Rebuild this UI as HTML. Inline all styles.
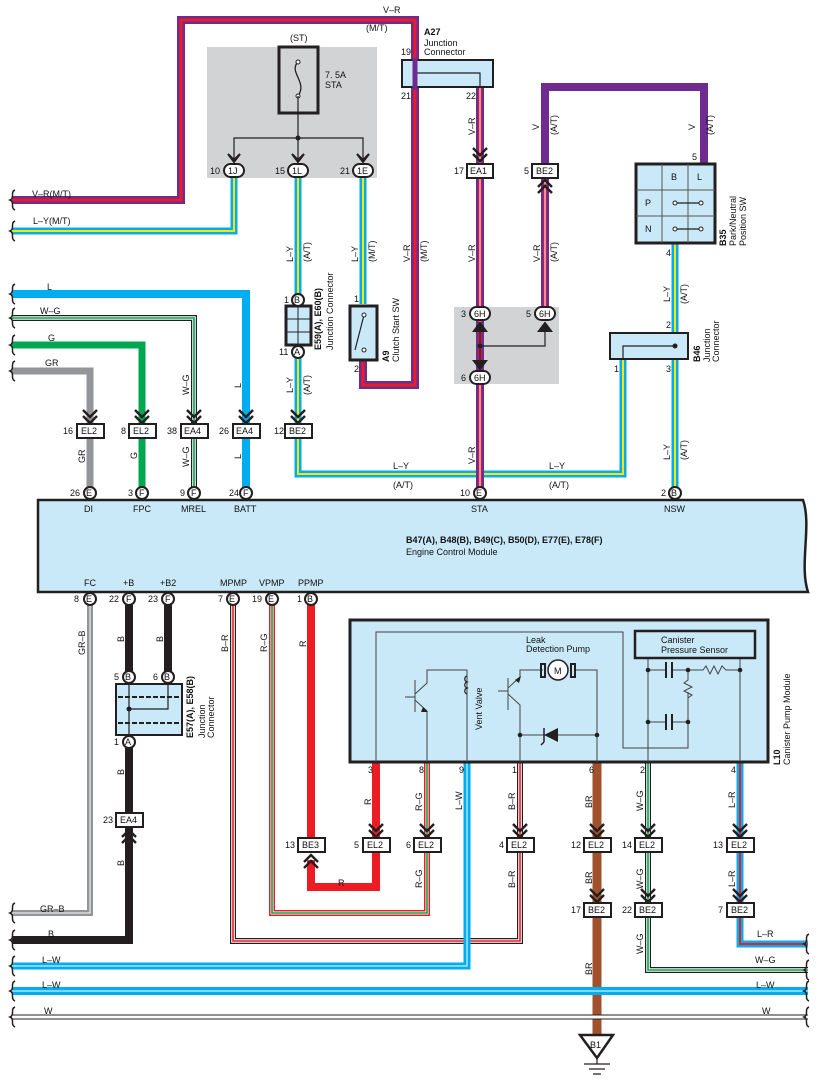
<!DOCTYPE html>
<html><head><meta charset="utf-8"><style>
html,body{margin:0;padding:0;background:#fff}
svg{display:block}
text{font-family:"Liberation Sans",sans-serif;font-size:9px;fill:#111}
.w{fill:none;stroke-linejoin:miter}
.L{stroke:#00aeef;stroke-width:7}
.Y{stroke:#ffe600;stroke-width:2}
.V{stroke:#6e2c91;stroke-width:8}
.R2{stroke:#ed1c24;stroke-width:3}
.Wt{stroke:#fff;stroke-width:1}
.K{stroke:#231f20;stroke-width:8}
.Kt{stroke:#231f20;stroke-width:6}
.Wh{stroke:#fff;stroke-width:3.6}
.Gt{stroke:#00a651;stroke-width:1.6}
.Rt{stroke:#ed1c24;stroke-width:1.6}
.G{stroke:#00a651;stroke-width:7}
.GR{stroke:#939598;stroke-width:7}
.R{stroke:#ed1c24;stroke-width:8}
.BR{stroke:#a0522d;stroke-width:9}
.thin{fill:none;stroke:#231f20;stroke-width:1.2}
.box{fill:#fff;stroke:#231f20;stroke-width:2}
.pin{fill:#fff;stroke:#231f20;stroke-width:2}
.ch{fill:none;stroke:#231f20;stroke-width:2.4}
</style></head><body>
<svg width="818" height="1087" viewBox="0 0 818 1087" xmlns="http://www.w3.org/2000/svg">
<defs>
<path id="chd" d="M-7,-13 L0,-6 L7,-13 M-7,-7 L0,0 L7,-7" class="ch"/>
<path id="chu" d="M-7,13 L0,6 L7,13 M-7,7 L0,0 L7,7" class="ch"/>
<path id="brace" d="M3,-10 C-2,-8 3,-2 -2,0 C3,2 -2,8 3,10" fill="none" stroke="#231f20" stroke-width="1.5"/>
</defs>

<!-- gray areas -->
<rect x="207" y="47" width="170" height="131" fill="#d1d3d4"/>
<rect x="454" y="307" width="105" height="77" fill="#d1d3d4"/>

<!-- V-R M/T long wire -->
<path class="w V" d="M12,200 H181 V20 H415 V385 H363 V360"/>
<path class="w R2" d="M12,200 H181 V20 H415 V385 H363 V360"/>
<!-- L-Y M/T -->
<path class="w L" d="M12,231 H234 V176"/><path class="w Y" d="M12,231 H234 V176"/>
<!-- 1L down -->
<path class="w L" d="M298,176 V474 H623 V358"/><path class="w Y" d="M298,176 V474 H623 V358"/>
<!-- 1E down -->
<path class="w L" d="M363,176 V304"/><path class="w Y" d="M363,176 V304"/>
<!-- V-R 22 to STA -->
<path class="w V" d="M480,88 V493"/><path class="w R2" d="M480,88 V493"/><path class="w Wt" d="M480,88 V493"/>
<!-- V from BE2 to B35 -->
<path class="w V" d="M545,163 V87 H704 V163"/>
<path class="w V" d="M545,177 V307"/><path class="w R2" d="M545,177 V307"/><path class="w Wt" d="M545,177 V307"/>
<!-- B35 pin4 to NSW -->
<path class="w L" d="M675,243 V493"/><path class="w Y" d="M675,243 V493"/>
<!-- left wires -->
<path class="w L" d="M12,294 H246 V493" style="stroke-width:8"/>
<path class="w Kt" d="M12,318 H194 V493"/><path class="w Wh" d="M12,318 H194 V493"/><path class="w Gt" d="M12,318 H194 V493"/>
<path class="w G" d="M12,345 H142 V493"/>
<path class="w GR" d="M12,371 H90 V493"/>

<!-- fuse -->
<rect x="279" y="47" width="39" height="66" fill="none" stroke="#231f20" stroke-width="3"/>
<path d="M298,62 C288,72 308,82 298,96" fill="none" stroke="#231f20" stroke-width="1.3"/>
<circle cx="298" cy="62" r="2" fill="#fff" stroke="#231f20"/><circle cx="298" cy="96" r="2" fill="#fff" stroke="#231f20"/>
<path class="thin" d="M298,96 V113 M298,113 V138 M234,160 V138 H363 V160 M298,138 V160"/>
<circle cx="298" cy="138" r="2.5" fill="#231f20"/>
<path d="M228,154 L234,162 L240,154 L234,160Z M292,154 L298,162 L304,154 L298,160Z M357,154 L363,162 L369,154 L363,160Z" fill="#231f20" stroke="#231f20" stroke-width="2"/>
<text x="290" y="41">(ST)</text>
<text x="325" y="78">7. 5A</text><text x="325" y="88">STA</text>
<g>
<rect x="224" y="164" width="20" height="13" rx="6.5" class="pin"/><text x="228" y="174">1J</text><text x="210" y="174">10</text>
<rect x="288" y="164" width="20" height="13" rx="6.5" class="pin"/><text x="292" y="174">1L</text><text x="275" y="174">15</text>
<rect x="353" y="164" width="20" height="13" rx="6.5" class="pin"/><text x="357" y="174">1E</text><text x="340" y="174">21</text>
</g>
<text x="32" y="197">V–R(M/T)</text>
<text x="33" y="224">L–Y(M/T)</text>
<text x="47" y="290">L</text><text x="40" y="314">W–G</text><text x="48" y="341">G</text><text x="45" y="366">GR</text>

<!-- A27 -->
<rect x="402" y="60" width="91" height="27" fill="#c9e9f9" stroke="#231f20" stroke-width="2"/>
<path class="thin" d="M415,73 H480 V88"/><circle cx="415" cy="73" r="2.5" fill="#231f20"/>
<path class="w V" d="M415,58 V90" style="stroke-width:5"/>
<text x="424" y="35" style="font-weight:bold">A27</text><text x="424" y="46">Junction</text><text x="424" y="55">Connector</text>
<text x="401" y="55">19</text><text x="401" y="99">21</text><text x="466" y="99">22</text>
<text x="383" y="13">V–R</text><text x="366" y="31">(M/T)</text>

<!-- EA1 / BE2 top -->
<use href="#chd" x="480" y="161"/>
<rect x="467" y="164" width="26" height="14" class="box"/><text x="470" y="174">EA1</text><text x="454" y="174">17</text>
<rect x="532" y="164" width="26" height="14" class="box"/><text x="536" y="174">BE2</text><text x="524" y="174">5</text>
<use href="#chu" x="545" y="180"/>
<!-- 6H -->
<rect x="470" y="307" width="20" height="13" rx="6.5" class="pin"/><text x="474" y="317">6H</text><text x="461" y="317">3</text>
<rect x="535" y="307" width="20" height="13" rx="6.5" class="pin"/><text x="539" y="317">6H</text><text x="526" y="317">5</text>
<rect x="470" y="371" width="20" height="13" rx="6.5" class="pin"/><text x="474" y="381">6H</text><text x="461" y="381">6</text>
<path class="thin" d="M480,322 V368 M480,346 H545 V324"/><circle cx="480" cy="346" r="2.5" fill="#231f20"/>
<path d="M474,331 L480,323 L486,331Z M539,331 L545,323 L551,331Z M474,361 L480,369 L486,361Z" fill="#231f20" stroke="#231f20" stroke-width="2"/>

<!-- B35 -->
<rect x="636" y="164" width="79" height="79" fill="#c9e9f9" stroke="#231f20" stroke-width="3"/>
<path d="M662,164 V243 M688,164 V243 M636,190 H715 M636,216 H715" stroke="#555" stroke-width="1"/>
<text x="671" y="180">B</text><text x="697" y="180">L</text><text x="645" y="206">P</text><text x="645" y="232">N</text>
<path class="thin" d="M675,203 H701 M675,229 H701"/>
<circle cx="675" cy="203" r="2" fill="#fff" stroke="#231f20"/><circle cx="701" cy="203" r="2" fill="#fff" stroke="#231f20"/>
<circle cx="675" cy="229" r="2" fill="#fff" stroke="#231f20"/><circle cx="701" cy="229" r="2" fill="#fff" stroke="#231f20"/>
<text x="692" y="160">5</text><text x="666" y="256">4</text>
<g transform="rotate(-90 726 246)"><text x="726" y="246" style="font-weight:bold">B35</text><text x="726" y="256">Park/Neutral</text><text x="726" y="266">Position SW</text></g>
<!-- B46 -->
<rect x="610" y="333" width="78" height="26" fill="#c9e9f9" stroke="#231f20" stroke-width="2"/>
<path class="thin" d="M623,358 V346 H675"/><circle cx="675" cy="346" r="2.5" fill="#231f20"/>
<text x="666" y="328">2</text><text x="614" y="372">1</text><text x="666" y="372">3</text>
<g transform="rotate(-90 700 362)"><text x="700" y="362" style="font-weight:bold">B46</text><text x="700" y="372">Junction</text><text x="700" y="381">Connector</text></g>

<!-- E59/E60 -->
<rect x="286" y="306" width="25" height="39" fill="#c9e9f9" stroke="#231f20" stroke-width="3"/>
<path d="M298,306 V345 M286,319 H311 M286,332 H311" stroke="#231f20" stroke-width="1"/>
<circle cx="298" cy="300" r="6" class="pin"/><text x="294" y="303">B</text><text x="284" y="303">1</text>
<circle cx="298" cy="352" r="6" class="pin"/><text x="294" y="355">A</text><text x="279" y="355">11</text>
<g transform="rotate(-90 321 350)"><text x="321" y="350" style="font-weight:bold">E59(A), E60(B)</text><text x="333" y="350" transform="translate(0,0)"> </text></g>
<g transform="rotate(-90 333 350)"><text x="333" y="350">Junction Connector</text></g>
<!-- clutch sw -->
<rect x="350" y="306" width="27" height="54" fill="#c9e9f9" stroke="#231f20" stroke-width="3"/>
<path class="thin" d="M364,315 L355,350"/><circle cx="364" cy="315" r="2" fill="#fff" stroke="#231f20"/><circle cx="364" cy="350" r="2" fill="#fff" stroke="#231f20"/>
<text x="354" y="302">1</text><text x="354" y="372">2</text>
<g transform="rotate(-90 389 362)"><text x="389" y="362" style="font-weight:bold">A9</text><text x="389" y="372"> Clutch Start SW</text></g>

<!-- upper row connectors -->
<use href="#chd" x="90" y="423"/><use href="#chd" x="142" y="423"/><use href="#chd" x="194" y="423"/><use href="#chd" x="246" y="423"/><use href="#chd" x="298" y="423"/>
<rect x="77" y="424" width="27" height="14" class="box"/><text x="81" y="434">EL2</text><text x="63" y="434">16</text>
<rect x="129" y="424" width="27" height="14" class="box"/><text x="133" y="434">EL2</text><text x="121" y="434">8</text>
<rect x="181" y="424" width="27" height="14" class="box"/><text x="184" y="434">EA4</text><text x="167" y="434">38</text>
<rect x="233" y="424" width="27" height="14" class="box"/><text x="236" y="434">EA4</text><text x="219" y="434">26</text>
<rect x="285" y="424" width="27" height="14" class="box"/><text x="289" y="434">BE2</text><text x="274" y="434">12</text>

<!-- vertical labels upper -->
<g font-size="9">
<text transform="rotate(-90 293 262)" x="293" y="262">L–Y</text><text transform="rotate(-90 310 262)" x="310" y="262">(A/T)</text>
<text transform="rotate(-90 358 262)" x="358" y="262">L–Y</text><text transform="rotate(-90 375 262)" x="375" y="262">(M/T)</text>
<text transform="rotate(-90 410 262)" x="410" y="262">V–R</text><text transform="rotate(-90 427 262)" x="427" y="262">(M/T)</text>
<text transform="rotate(-90 475 262)" x="475" y="262">V–R</text>
<text transform="rotate(-90 540 262)" x="540" y="262">V–R</text><text transform="rotate(-90 557 262)" x="557" y="262">(A/T)</text>
<text transform="rotate(-90 475 135)" x="475" y="135">V–R</text>
<text transform="rotate(-90 539 130)" x="539" y="130">V</text><text transform="rotate(-90 557 135)" x="557" y="135">(A/T)</text>
<text transform="rotate(-90 695 130)" x="695" y="130">V</text><text transform="rotate(-90 713 135)" x="713" y="135">(A/T)</text>
<text transform="rotate(-90 670 302)" x="670" y="302">L–Y</text><text transform="rotate(-90 687 304)" x="687" y="304">(A/T)</text>
<text transform="rotate(-90 670 460)" x="670" y="460">L–Y</text><text transform="rotate(-90 687 460)" x="687" y="460">(A/T)</text>
<text transform="rotate(-90 293 393)" x="293" y="393">L–Y</text><text transform="rotate(-90 310 395)" x="310" y="395">(A/T)</text>
<text transform="rotate(-90 475 464)" x="475" y="464">V–R</text>
<text transform="rotate(-90 189 395)" x="189" y="395">W–G</text><text transform="rotate(-90 241 388)" x="241" y="388">L</text>
<text transform="rotate(-90 85 463)" x="85" y="463">GR</text><text transform="rotate(-90 137 459)" x="137" y="459">G</text>
<text transform="rotate(-90 189 467)" x="189" y="467">W–G</text><text transform="rotate(-90 241 459)" x="241" y="459">L</text>
</g>
<text x="393" y="469">L–Y</text><text x="393" y="488">(A/T)</text>
<text x="549" y="469">L–Y</text><text x="549" y="488">(A/T)</text>

<!-- ECM -->
<path d="M38,500 H803 C812,525 799,565 808,592 H38 Z" fill="#c9e9f9" stroke="#231f20" stroke-width="2.5"/>
<text x="406" y="543" style="font-weight:bold">B47(A), B48(B), B49(C), B50(D), E77(E), E78(F)</text>
<text x="406" y="555">Engine Control Module</text>
<g>
<circle cx="90" cy="493" r="6" class="pin"/><text x="86" y="496">E</text><text x="70" y="496">26</text><text x="84" y="512">DI</text>
<circle cx="142" cy="493" r="6" class="pin"/><text x="139" y="496">F</text><text x="128" y="496">3</text><text x="133" y="512">FPC</text>
<circle cx="194" cy="493" r="6" class="pin"/><text x="191" y="496">F</text><text x="180" y="496">9</text><text x="181" y="512">MREL</text>
<circle cx="246" cy="493" r="6" class="pin"/><text x="243" y="496">F</text><text x="229" y="496">24</text><text x="234" y="512">BATT</text>
<circle cx="480" cy="493" r="6" class="pin"/><text x="476" y="496">E</text><text x="460" y="496">10</text><text x="471" y="512">STA</text>
<circle cx="675" cy="493" r="6" class="pin"/><text x="671" y="496">B</text><text x="661" y="496">2</text><text x="664" y="512">NSW</text>
</g>
<text x="84" y="586">FC</text><text x="123" y="586">+B</text><text x="160" y="586">+B2</text>
<text x="220" y="586">MPMP</text><text x="259" y="586">VPMP</text><text x="298" y="586">PPMP</text>

<!-- bottom wires -->
<path class="w GR" d="M90,605 V913 H12" style="stroke-width:6"/>
<path class="w" stroke="#fff" stroke-width="1" d="M90,605 V913 H12"/>
<path class="w K" d="M129,605 V680 M168,605 V680 M129,748 V940 H12"/>
<path class="w Kt" d="M233,605 V941 H520 V762"/><path class="w Wh" d="M233,605 V941 H520 V762"/><path class="w Rt" d="M233,605 V941 H520 V762"/>
<path class="w" stroke="#ed1c24" stroke-width="6" d="M272,605 V913 H427 V762"/><path class="w Wh" style="stroke-width:3" d="M272,605 V913 H427 V762"/><path class="w Gt" d="M272,605 V913 H427 V762"/>
<path class="w R" d="M311,605 V838 M311,860 V887 H376 V762"/>
<path class="w L" d="M467,762 V966 H12"/><path class="w Wt" d="M467,762 V966 H12"/>
<path class="w BR" d="M597,762 V1036"/>
<path class="w Kt" d="M648,762 V970 H808"/><path class="w Wh" d="M648,762 V970 H808"/><path class="w Gt" d="M648,762 V970 H808"/>
<path class="w L" d="M740,762 V944 H808"/><path class="w R2" style="stroke-width:2" d="M740,762 V944 H808"/>
<path class="w L" d="M12,991 H808" style="stroke-width:8"/><path class="w Wt" d="M12,991 H808"/>
<path class="w" stroke="#231f20" stroke-width="5" d="M12,1017 H808"/><path class="w" stroke="#fff" stroke-width="3" d="M12,1017 H808"/>
<g><use href="#brace" x="12" y="200"/><use href="#brace" x="12" y="231"/><use href="#brace" x="12" y="294"/><use href="#brace" x="12" y="318"/><use href="#brace" x="12" y="345"/><use href="#brace" x="12" y="371"/>
<use href="#brace" x="12" y="913"/><use href="#brace" x="12" y="940"/><use href="#brace" x="12" y="966"/><use href="#brace" x="12" y="991"/><use href="#brace" x="12" y="1017"/>
<use href="#brace" x="806" y="944"/><use href="#brace" x="806" y="970"/><use href="#brace" x="806" y="991"/><use href="#brace" x="806" y="1017"/></g>
<text x="40" y="912">GR–B</text><text x="48" y="937">B</text><text x="42" y="963">L–W</text><text x="42" y="988">L–W</text><text x="44" y="1014">W</text>
<text x="757" y="937">L–R</text><text x="755" y="963">W–G</text><text x="756" y="988">L–W</text><text x="762" y="1014">W</text>
<text x="338" y="886">R</text>

<!-- bottom ECM pins -->
<circle cx="90" cy="599" r="6" class="pin"/><text x="86" y="602">E</text><text x="74" y="602">8</text>
<circle cx="129" cy="599" r="6" class="pin"/><text x="126" y="602">F</text><text x="109" y="602">22</text>
<circle cx="168" cy="599" r="6" class="pin"/><text x="165" y="602">F</text><text x="148" y="602">23</text>
<circle cx="233" cy="599" r="6" class="pin"/><text x="229" y="602">E</text><text x="218" y="602">7</text>
<circle cx="272" cy="599" r="6" class="pin"/><text x="268" y="602">E</text><text x="252" y="602">19</text>
<circle cx="311" cy="599" r="6" class="pin"/><text x="307" y="602">B</text><text x="297" y="602">1</text>

<!-- E57/E58 -->
<rect x="116" y="684" width="66" height="51" fill="#c9e9f9" stroke="#231f20" stroke-width="2"/>
<path d="M118,697 H180 M118,723 H180" stroke="#231f20" stroke-width="2" stroke-dasharray="5,2"/>
<path class="thin" d="M129,684 V736 M129,709 H168 V684"/><circle cx="129" cy="709" r="2.5" fill="#231f20"/>
<circle cx="129" cy="677" r="6" class="pin"/><text x="125" y="680">B</text><text x="114" y="680">5</text>
<circle cx="168" cy="677" r="6" class="pin"/><text x="164" y="680">B</text><text x="153" y="680">6</text>
<circle cx="129" cy="742" r="6" class="pin"/><text x="125" y="745">A</text><text x="114" y="745">1</text>
<g transform="rotate(-90 193 738)"><text x="193" y="738" style="font-weight:bold">E57(A), E58(B)</text></g>
<g transform="rotate(-90 205 738)"><text x="205" y="738">Junction</text><text x="205" y="747" transform="translate(0,0)"> </text></g>
<g transform="rotate(-90 214 738)"><text x="214" y="738">Connector</text></g>
<rect x="116" y="813" width="27" height="14" class="box"/><text x="120" y="823">EA4</text><text x="103" y="823">23</text>
<use href="#chu" x="129" y="830"/>

<!-- L10 -->
<rect x="350" y="620" width="418" height="142" fill="#c9e9f9" stroke="#231f20" stroke-width="3"/>
<g class="thin" style="stroke:#444;stroke-width:1">
<path d="M376,762 V632 H623 V748 H688 V692 M648,762 V659 M740,762 V659"/>
<path d="M427,762 V711 M427,711 L415,700 M415,680 V712 M405,697 H415 M415,694 L427,683 V670 H467 V762"/>
<path d="M520,762 V705 L508,694 M508,678 V710 M498,691 H508 M508,688 L520,677 V670 H543 M574,670 H597 V762 M520,735 H597"/>
<path d="M648,670 H666 M672,670 H688 H703 L706,666 L710,674 L714,666 L718,674 L722,666 L726,670 H740 M688,670 V680 L684,683 L692,687 L684,691 L692,695 L688,698 V722 M648,722 H666 M672,722 H688"/>
</g>
<path d="M666,662 V678 M672,662 V678 M666,714 V730 M672,714 V730" stroke="#231f20" stroke-width="2"/>
<path d="M544,735 L558,728 V742Z" fill="#231f20"/><path d="M544,728 V742 M544,742 L541,745" stroke="#231f20" stroke-width="1.5"/>
<path d="M423,707 L428,712 L421,712Z M515,680 L521,676 L519,683Z" fill="#231f20"/>
<path d="M467,676 c-3,1 -3,5 0,6 c-3,1 -3,5 0,6 c-3,1 -3,5 0,6" fill="none" stroke="#231f20" stroke-width="1.2"/>
<circle cx="558" cy="670" r="10" fill="#fff" stroke="#231f20" stroke-width="1.5"/><text x="554" y="674">M</text>
<rect x="541" y="664" width="4" height="13" fill="none" stroke="#231f20" stroke-width="2"/><rect x="571" y="664" width="4" height="13" fill="none" stroke="#231f20" stroke-width="2"/>
<g fill="#231f20"><circle cx="648" cy="670" r="2.3"/><circle cx="688" cy="670" r="2.3"/><circle cx="740" cy="670" r="2.3"/><circle cx="648" cy="722" r="2.3"/><circle cx="688" cy="722" r="2.3"/><circle cx="520" cy="735" r="2.3"/><circle cx="597" cy="735" r="2.3"/></g>
<rect x="635" y="631" width="120" height="27" fill="#c9e9f9" stroke="#231f20" stroke-width="2.5"/>
<text x="661" y="643">Canister</text><text x="661" y="653">Pressure Sensor</text>
<text x="526" y="643">Leak</text><text x="526" y="652">Detection Pump</text>
<text transform="rotate(-90 482 730)" x="482" y="730">Vent Valve</text>
<g transform="rotate(-90 780 765)"><text x="780" y="765" style="font-weight:bold">L10</text><text x="780" y="775">Canister Pump Module</text></g>
<text x="368" y="773">3</text><text x="419" y="773">8</text><text x="459" y="773">9</text><text x="512" y="773">1</text><text x="589" y="773">6</text><text x="640" y="773">2</text><text x="731" y="773">4</text>

<!-- lower connectors -->
<use href="#chd" x="376" y="837"/><use href="#chd" x="427" y="837"/><use href="#chd" x="520" y="837"/><use href="#chd" x="597" y="837"/><use href="#chd" x="648" y="837"/><use href="#chd" x="740" y="837"/>
<use href="#chd" x="597" y="902"/><use href="#chd" x="648" y="902"/><use href="#chd" x="740" y="902"/>
<use href="#chu" x="311" y="855"/>
<rect x="298" y="838" width="27" height="14" class="box"/><text x="302" y="848">BE3</text><text x="285" y="848">13</text>
<rect x="363" y="838" width="27" height="14" class="box"/><text x="367" y="848">EL2</text><text x="354" y="848">5</text>
<rect x="414" y="838" width="27" height="14" class="box"/><text x="418" y="848">EL2</text><text x="406" y="848">6</text>
<rect x="507" y="838" width="27" height="14" class="box"/><text x="511" y="848">EL2</text><text x="499" y="848">4</text>
<rect x="584" y="838" width="27" height="14" class="box"/><text x="588" y="848">EL2</text><text x="571" y="848">12</text>
<rect x="635" y="838" width="27" height="14" class="box"/><text x="639" y="848">EL2</text><text x="622" y="848">14</text>
<rect x="727" y="838" width="27" height="14" class="box"/><text x="731" y="848">EL2</text><text x="713" y="848">13</text>
<rect x="584" y="903" width="27" height="14" class="box"/><text x="588" y="913">BE2</text><text x="571" y="913">17</text>
<rect x="635" y="903" width="27" height="14" class="box"/><text x="639" y="913">BE2</text><text x="622" y="913">22</text>
<rect x="727" y="903" width="27" height="14" class="box"/><text x="731" y="913">BE2</text><text x="718" y="913">7</text>

<!-- ground -->
<path d="M580,1035 H613 L597,1058 Z" fill="#fff" stroke="#231f20" stroke-width="2.5"/>
<text x="590" y="1048">B1</text>
<path d="M597,1058 V1064 M584,1064 H610 M589,1069 H605 M593,1074 H601" stroke="#231f20" stroke-width="1.2"/>

<!-- lower vertical labels -->
<g>
<text transform="rotate(-90 85 655)" x="85" y="655">GR–B</text>
<text transform="rotate(-90 124 642)" x="124" y="642">B</text><text transform="rotate(-90 163 642)" x="163" y="642">B</text>
<text transform="rotate(-90 124 775)" x="124" y="775">B</text><text transform="rotate(-90 124 866)" x="124" y="866">B</text>
<text transform="rotate(-90 228 652)" x="228" y="652">B–R</text><text transform="rotate(-90 267 652)" x="267" y="652">R–G</text><text transform="rotate(-90 306 647)" x="306" y="647">R</text>
<text transform="rotate(-90 371 805)" x="371" y="805">R</text><text transform="rotate(-90 422 811)" x="422" y="811">R–G</text><text transform="rotate(-90 462 810)" x="462" y="810">L–W</text>
<text transform="rotate(-90 515 810)" x="515" y="810">B–R</text><text transform="rotate(-90 592 808)" x="592" y="808">BR</text><text transform="rotate(-90 643 811)" x="643" y="811">W–G</text><text transform="rotate(-90 735 808)" x="735" y="808">L–R</text>
<text transform="rotate(-90 422 888)" x="422" y="888">R–G</text><text transform="rotate(-90 515 888)" x="515" y="888">B–R</text><text transform="rotate(-90 592 884)" x="592" y="884">BR</text><text transform="rotate(-90 643 889)" x="643" y="889">W–G</text><text transform="rotate(-90 735 887)" x="735" y="887">L–R</text>
<text transform="rotate(-90 592 975)" x="592" y="975">BR</text><text transform="rotate(-90 643 954)" x="643" y="954">W–G</text>
</g>
</svg>
</body></html>
